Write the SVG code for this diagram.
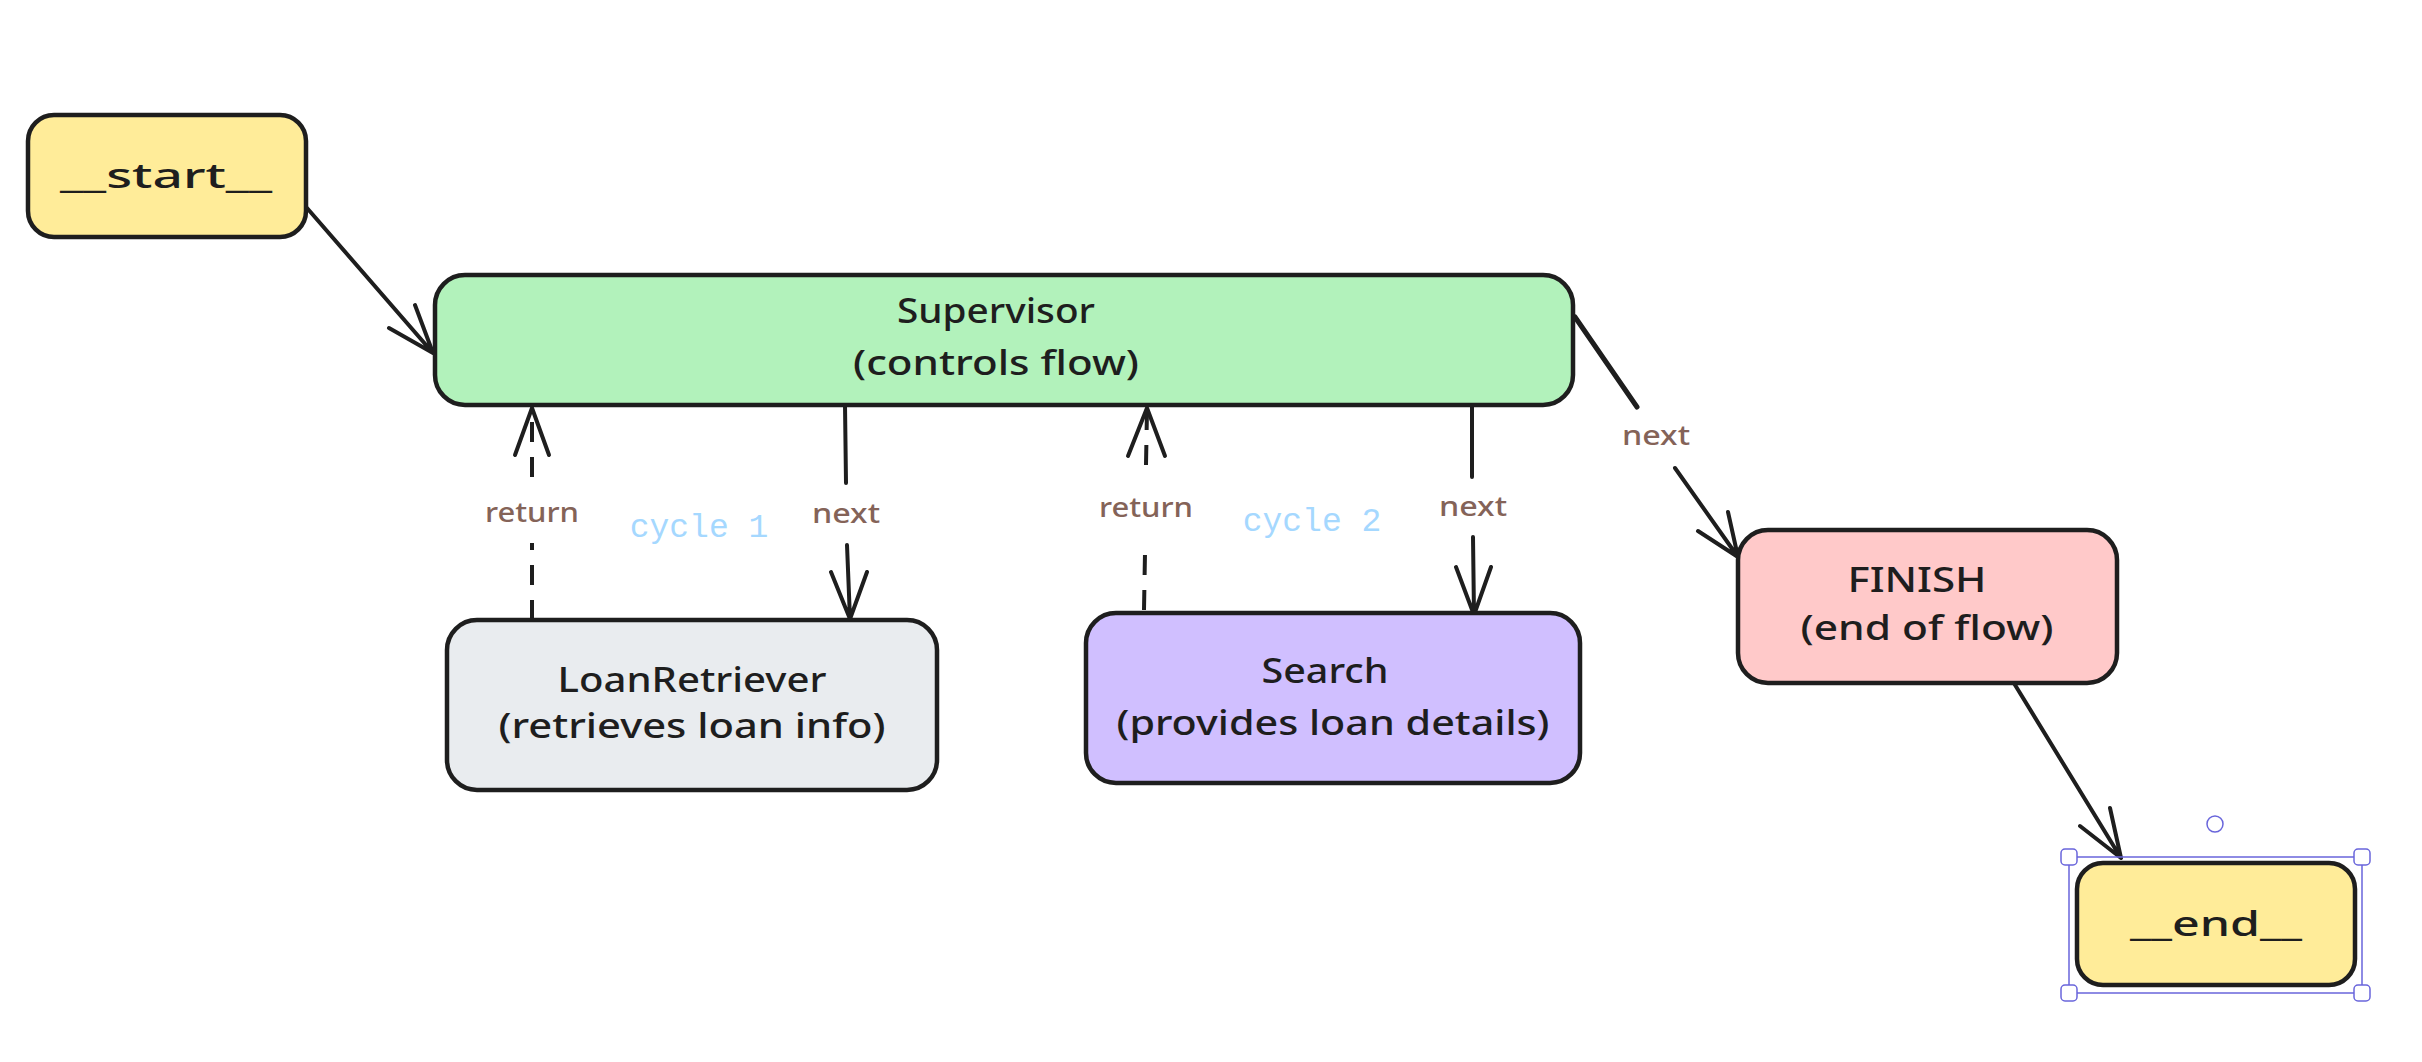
<svg xmlns="http://www.w3.org/2000/svg" width="2422" height="1062" viewBox="0 0 2422 1062">
<style>
.box{stroke:#1e1e1e;stroke-width:4.5;stroke-linejoin:round}
.nt{font-family:"Noto Sans","Liberation Sans",sans-serif;font-size:34px;font-weight:500;fill:#1e1e1e;text-anchor:middle}
.lb{font-family:"Noto Sans","Liberation Sans",sans-serif;font-size:27px;font-weight:500;fill:#846358;text-anchor:middle}
.cy{font-family:"Liberation Mono",monospace;font-size:33px;fill:#a5d8ff;text-anchor:middle}
.ln{stroke:#1e1e1e;stroke-width:4;fill:none;stroke-linecap:round;stroke-linejoin:round}
.dash{stroke-dasharray:20 15;stroke-linecap:butt}
.sel{stroke:#6965db;stroke-width:1.5;fill:none}
.hd{stroke:#6965db;stroke-width:1.5;fill:#ffffff}
</style>
<rect width="2422" height="1062" fill="#ffffff"/>

<g id="connectors">
  <!-- start -> Supervisor -->
  <path class="ln" d="M307,208 L433,353 M389,328 L433,353 L415,305"/>
  <!-- return 1 -->
  <path class="ln dash" d="M532,620 L532,543"/>
  <path class="ln dash" d="M532,477 L532,410"/>
  <path class="ln" d="M515,455 L532,408 L549,455"/>
  <text class="lb" x="532" y="522" textLength="94" lengthAdjust="spacingAndGlyphs">return</text>
  <!-- next 1 -->
  <path class="ln" d="M845,405 L846,483 M847,545 L850,619 M831,572 L850,619 L867,572"/>
  <text class="lb" x="846" y="523" textLength="68" lengthAdjust="spacingAndGlyphs">next</text>
  <!-- return 2 -->
  <path class="ln dash" d="M1144,610 L1145,553"/>
  <path class="ln dash" d="M1146,465 L1147,410"/>
  <path class="ln" d="M1128,456 L1147,408 L1165,456"/>
  <text class="lb" x="1146" y="517" textLength="94" lengthAdjust="spacingAndGlyphs">return</text>
  <!-- next 2 -->
  <path class="ln" d="M1472,402 L1472,477 M1473,537 L1474,615 M1456,567 L1474,615 L1491,567"/>
  <text class="lb" x="1473" y="516" textLength="68" lengthAdjust="spacingAndGlyphs">next</text>
  <!-- next 3 -->
  <path class="ln" style="stroke-width:5" d="M1575,317 L1637,407"/>
  <path class="ln" d="M1675,468 L1738,557 M1698,531 L1738,557 L1728,512"/>
  <text class="lb" x="1656" y="445" textLength="68" lengthAdjust="spacingAndGlyphs">next</text>
  <!-- FINISH -> end -->
  <path class="ln" d="M2012,680 L2121,858 M2080,826 L2121,858 L2110,808"/>
  <!-- cycle labels -->
  <text class="cy" x="699" y="537">cycle 1</text>
  <text class="cy" x="1312" y="531">cycle 2</text>
</g>

<g id="start">
  <rect class="box" x="28" y="115" width="278" height="122" rx="26" fill="#ffec99"/>
  <text class="nt" x="166" y="188" textLength="212" lengthAdjust="spacingAndGlyphs">__start__</text>
</g>

<g id="supervisor">
  <rect class="box" x="435" y="275" width="1138" height="130" rx="30" fill="#b2f2bb"/>
  <text class="nt" x="996" y="323" textLength="198" lengthAdjust="spacingAndGlyphs">Supervisor</text>
  <text class="nt" x="996" y="375" textLength="286" lengthAdjust="spacingAndGlyphs">(controls flow)</text>
</g>

<g id="loanretriever">
  <rect class="box" x="447" y="620" width="490" height="170" rx="30" fill="#e9ecef"/>
  <text class="nt" x="692" y="692" textLength="269" lengthAdjust="spacingAndGlyphs">LoanRetriever</text>
  <text class="nt" x="692" y="738" textLength="387" lengthAdjust="spacingAndGlyphs">(retrieves loan info)</text>
</g>

<g id="search">
  <rect class="box" x="1086" y="613" width="494" height="170" rx="30" fill="#d0bfff"/>
  <text class="nt" x="1325" y="683" textLength="127" lengthAdjust="spacingAndGlyphs">Search</text>
  <text class="nt" x="1333" y="735" textLength="433" lengthAdjust="spacingAndGlyphs">(provides loan details)</text>
</g>

<g id="finish">
  <rect class="box" x="1738" y="530" width="379" height="153" rx="30" fill="#ffc9c9"/>
  <text class="nt" x="1917" y="592" textLength="139" lengthAdjust="spacingAndGlyphs">FINISH</text>
  <text class="nt" x="1927" y="640" textLength="253" lengthAdjust="spacingAndGlyphs">(end of flow)</text>
</g>

<g id="end">
  <rect class="box" x="2077" y="863" width="278" height="122" rx="26" fill="#ffec99"/>
  <text class="nt" x="2216" y="936" textLength="172" lengthAdjust="spacingAndGlyphs">__end__</text>
</g>

<g id="selection">
  <rect class="sel" x="2069" y="857" width="293" height="136"/>
  <rect class="hd" x="2061" y="849" width="16" height="16" rx="4"/>
  <rect class="hd" x="2354" y="849" width="16" height="16" rx="4"/>
  <rect class="hd" x="2061" y="985" width="16" height="16" rx="4"/>
  <rect class="hd" x="2354" y="985" width="16" height="16" rx="4"/>
  <circle class="hd" cx="2215" cy="824" r="8"/>
</g>
</svg>
